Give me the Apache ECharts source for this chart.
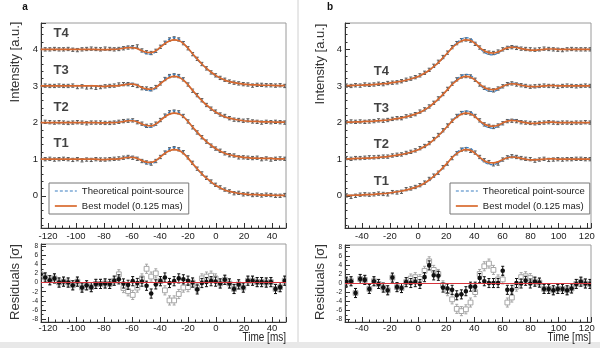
<!DOCTYPE html>
<html><head><meta charset="utf-8">
<script src="https://cdn.jsdelivr.net/npm/echarts@6/dist/echarts.min.js"></script>
<style>html,body{margin:0;padding:0;background:#fff}#c{width:600px;height:348px}</style>
</head><body><div id="c"></div><script>
const SANS = '"Liberation Sans", Arial, sans-serif';

// ---- panel a (disappearance) ----
const timeA = [-125.3,-122.0,-118.7,-115.4,-112.1,-108.9,-105.6,-102.3,-99.0,-95.7,-92.4,-89.1,-85.8,-82.5,-79.2,-75.9,-72.7,-69.4,-66.1,-62.8,-59.5,-56.2,-52.9,-49.6,-46.3,-43.0,-39.7,-36.5,-33.2,-29.9,-26.6,-23.3,-20.0,-16.7,-13.4,-10.1,-6.8,-3.5,-0.3,3.0,6.3,9.6,12.9,16.2,19.5,22.8,26.1,29.4,32.6,35.9,39.2,42.5,45.8,49.1];
const modelA = [1.00,1.00,1.00,1.00,1.00,1.00,1.00,1.00,1.00,1.00,1.00,1.00,1.00,0.99,0.99,1.00,1.00,1.01,1.03,1.05,1.05,1.02,0.96,0.92,0.91,0.96,1.06,1.16,1.23,1.26,1.24,1.16,1.03,0.88,0.74,0.60,0.48,0.38,0.29,0.22,0.16,0.12,0.09,0.07,0.05,0.04,0.03,0.03,0.02,0.02,0.02,0.01,0.01,0.01];
const theoryA = [1.00,1.00,1.00,1.00,1.00,1.00,1.00,1.00,1.00,1.00,1.00,1.00,1.00,0.99,0.99,1.00,1.01,1.02,1.04,1.07,1.07,1.03,0.95,0.88,0.87,0.94,1.06,1.19,1.29,1.32,1.28,1.18,1.03,0.87,0.72,0.59,0.47,0.37,0.28,0.21,0.16,0.12,0.09,0.07,0.05,0.04,0.03,0.03,0.02,0.02,0.02,0.01,0.01,0.01];
const aT1 = [1.02,1.00,1.01,0.99,1.00,1.01,1.00,0.98,1.00,0.97,0.99,0.98,1.00,0.99,0.99,1.00,1.01,1.02,1.04,1.06,1.04,1.01,0.95,0.91,0.88,0.95,1.06,1.18,1.27,1.30,1.27,1.19,1.05,0.90,0.74,0.61,0.49,0.39,0.30,0.23,0.17,0.12,0.07,0.08,0.04,0.05,0.02,0.03,0.01,0.03,0.02,0.00,0.00,0.02];
const aT2 = [2.01,2.02,2.01,2.00,2.01,2.00,1.99,2.00,2.01,2.00,1.98,2.00,2.00,2.00,1.99,1.99,2.00,2.02,2.04,2.05,2.06,2.01,1.97,1.91,1.92,1.97,2.07,2.19,2.28,2.30,2.28,2.18,2.03,1.87,1.73,1.60,1.48,1.37,1.29,1.23,1.16,1.11,1.10,1.05,1.05,1.04,1.03,1.04,1.00,1.02,0.99,1.01,1.02,1.01];
const aT3 = [3.00,3.01,3.00,3.00,3.01,3.00,3.00,3.01,2.97,2.99,2.96,2.97,2.95,2.97,2.99,3.00,3.01,3.04,3.05,3.05,3.03,3.00,2.94,2.93,2.91,2.97,3.07,3.19,3.27,3.29,3.27,3.18,3.04,2.87,2.75,2.61,2.48,2.38,2.30,2.22,2.18,2.12,2.08,2.07,2.05,2.06,2.03,2.02,2.00,2.02,2.01,2.02,2.01,2.00];
const aT4 = [4.00,4.00,4.00,4.01,4.00,4.00,4.01,3.99,3.98,4.00,4.01,4.02,4.01,4.00,4.02,4.01,4.00,4.01,4.03,4.05,4.06,4.08,3.97,3.92,3.90,3.96,4.07,4.18,4.27,4.30,4.27,4.17,4.03,3.87,3.74,3.60,3.48,3.37,3.29,3.22,3.17,3.12,3.09,3.07,3.05,3.04,3.01,3.03,3.03,3.02,3.02,3.01,3.02,3.00];
const resA = [1.8,1.1,0.5,0.9,0,0.2,0,-0.6,0.2,-1.1,-0.6,-1.0,-0.3,-0.3,-0.2,-0.3,0.4,0.7,-0.2,-0.5,0.3,-0.1,0.2,-0.7,-2.4,-0.4,0.3,1.1,-0.1,0.3,0.9,0.7,0.4,0,-1.5,-0.1,0.1,0.3,0.2,-0.2,0.6,-0.2,-1.4,-0.4,-1.1,0.4,0.4,0.1,0.1,0,0.1,-1.4,-1.0,0.4];
const resPsA = [1.8,1.1,0.5,0.9,0,0.2,0,-0.6,0.2,-1.1,-0.6,-1.0,-0.3,-0.3,-0.2,-0.3,0.4,1.8,-1.2,-1.9,-2.7,-1.1,0.9,3.0,1.3,2.0,0.3,-1.7,-3.9,-3.9,-2.5,-1.1,-1.0,0,-1.2,0.9,1.3,1.5,0.9,-0.2,0.6,-0.2,-1.4,-0.4,-1.1,0.4,0.4,0.1,0.1,0,0.1,-1.4,-1.0,0.4];

// ---- panel b (reappearance) ----
const timeB = [-51.0,-47.7,-44.5,-41.2,-37.9,-34.7,-31.4,-28.1,-24.8,-21.6,-18.3,-15.0,-11.8,-8.5,-5.2,-2.0,1.3,4.6,7.9,11.1,14.4,17.7,20.9,24.2,27.5,30.8,34.0,37.3,40.6,43.8,47.1,50.4,53.6,56.9,60.2,63.5,66.7,70.0,73.3,76.5,79.8,83.1,86.3,89.6,92.9,96.2,99.4,102.7,106.0,109.2,112.5,115.8,119.0,122.3];
const modelB = [0.01,0.01,0.02,0.02,0.03,0.03,0.04,0.05,0.06,0.07,0.09,0.11,0.13,0.16,0.19,0.23,0.28,0.35,0.43,0.53,0.64,0.77,0.90,1.04,1.15,1.23,1.26,1.24,1.16,1.05,0.96,0.91,0.90,0.93,0.99,1.04,1.06,1.05,1.02,1.00,0.98,0.98,0.99,1.00,1.01,1.01,1.00,1.00,1.00,1.00,1.00,1.00,1.00,1.00];
const theoryB = [0.01,0.01,0.02,0.02,0.03,0.03,0.04,0.05,0.06,0.07,0.09,0.11,0.13,0.16,0.19,0.23,0.28,0.34,0.42,0.52,0.63,0.76,0.90,1.05,1.18,1.28,1.32,1.29,1.18,1.04,0.92,0.86,0.85,0.90,0.98,1.05,1.08,1.07,1.03,1.00,0.98,0.97,0.98,1.00,1.01,1.01,1.01,1.00,1.00,1.00,1.00,1.00,1.00,1.00];
const bT1 = [0.01,-0.03,0.00,0.03,0.04,0.03,0.04,0.06,0.05,0.04,0.10,0.09,0.11,0.18,0.20,0.24,0.29,0.36,0.46,0.55,0.63,0.78,0.88,1.03,1.16,1.26,1.27,1.23,1.18,1.06,0.97,0.92,0.86,0.88,0.99,1.05,1.08,1.06,1.03,1.01,1.00,0.96,0.99,1.01,0.98,0.99,1.00,0.99,1.00,1.00,1.01,1.01,1.00,1.00];
const bT2 = [1.03,1.01,1.03,1.03,1.04,1.05,1.05,1.06,1.07,1.07,1.10,1.12,1.13,1.17,1.20,1.24,1.30,1.36,1.44,1.55,1.66,1.79,1.92,2.05,2.18,2.26,2.27,2.25,2.18,2.06,1.95,1.91,1.88,1.92,1.98,2.04,2.05,2.04,2.01,2.00,1.99,1.98,1.99,2.00,2.01,2.00,1.99,2.00,2.00,1.99,2.00,2.00,2.01,2.00];
const bT3 = [2.01,2.03,2.02,2.03,2.02,2.03,2.04,2.06,2.05,2.07,2.10,2.12,2.12,2.17,2.19,2.23,2.30,2.36,2.44,2.54,2.66,2.78,2.92,3.06,3.18,3.26,3.27,3.26,3.17,3.04,2.95,2.90,2.88,2.93,2.99,3.05,3.07,3.04,3.02,3.00,2.98,2.99,3.00,3.01,3.00,3.00,2.98,3.00,3.01,3.00,2.99,3.00,3.01,3.00];
const bT4 = [3.01,3.00,3.02,3.01,3.04,3.03,3.04,3.06,3.05,3.08,3.09,3.10,3.13,3.17,3.20,3.24,3.29,3.36,3.44,3.55,3.66,3.79,3.91,4.06,4.17,4.25,4.27,4.24,4.15,4.05,3.95,3.91,3.90,3.94,4.00,4.04,4.06,4.04,4.02,4.01,4.00,3.99,4.00,4.02,4.01,4.00,3.99,3.98,4.00,4.01,4.00,4.00,4.00,4.00];
const resB = [0.3,0.4,-2.2,0.9,0.7,-1.3,0.4,-0.2,-1.0,-1.6,1.2,-0.9,-1.1,0.2,0,0.2,-0.2,1.3,3.9,1.7,1.6,-1.0,-1.2,-1.5,-2.7,-2.5,-1.8,-0.8,-0.8,1.1,0.4,0,0,0,2.7,-1.5,-1.5,0,-0.1,0.5,-0.1,0.3,0.1,-1.3,-1.3,-1.6,-1.3,-1.3,-1.6,-1.2,-0.2,0.3,-0.1,-0.2];
const resPsB = [0.3,0.4,-2.2,0.9,0.7,-1.3,0.4,-0.2,-1.0,-1.6,1.2,-0.9,-1.1,0.2,1.0,1.3,0.9,2.7,4.8,2.9,2.0,-0.5,-1.8,-3.6,-5.7,-6.2,-5.8,-4.3,-2.0,2.0,3.7,4.3,2.9,0.8,0.8,-4.3,-3.2,-0.8,1.3,1.5,1.1,0.3,0.1,-1.3,-1.3,-1.6,-1.3,-1.3,-1.6,-1.2,-0.2,0.3,-0.1,-0.2];

const traceNames = ['T1', 'T2', 'T3', 'T4'];
const traceLevels = [0, 1, 2, 3];
const intensityErr = 0.045;   // half-length of the intensity error bars
const residualErr = 1;        // residual error bars are ±1 sigma

const THEORY = 'Theoretical point-source';
const MODEL = 'Best model (0.125 mas)';
const C_MODEL = '#d8692e';
const C_THEORY = '#3b7fc2';

function errorBars(opts) {
  return function (params, api) {
    const x = api.value(0), y = api.value(1), e = api.value(2);
    const p = api.coord([x, y]);
    const hi = api.coord([x, y + e])[1];
    const lo = api.coord([x, y - e])[1];
    const st = { stroke: opts.color, lineWidth: 1 };
    const cw = opts.cap;
    const kids = [
      { type: 'line', shape: { x1: p[0], y1: hi, x2: p[0], y2: lo }, style: st },
      { type: 'line', shape: { x1: p[0] - cw, y1: hi, x2: p[0] + cw, y2: hi }, style: st },
      { type: 'line', shape: { x1: p[0] - cw, y1: lo, x2: p[0] + cw, y2: lo }, style: st }
    ];
    if (opts.marker === 'circle') {
      kids.push({ type: 'circle', shape: { cx: p[0], cy: p[1], r: opts.size }, style: { fill: opts.color } });
    } else if (opts.marker === 'square') {
      const s = opts.size;
      kids.push({ type: 'rect', shape: { x: p[0] - s, y: p[1] - s, width: 2 * s, height: 2 * s }, style: { fill: '#fff', stroke: opts.color, lineWidth: 1 } });
    } else if (opts.marker === 'dot') {
      kids.push({ type: 'rect', shape: { x: p[0] - 0.7, y: p[1] - 0.7, width: 1.4, height: 1.4 }, style: { fill: opts.color } });
    }
    return { type: 'group', children: kids };
  };
}

const axisLineStyle = { color: '#333', width: 1 };
function xAxisDef(grid, min, max, margin) {
  return {
    type: 'value', gridIndex: grid, min: min, max: max,
    minInterval: 20, maxInterval: 20,
    axisLine: { show: true, onZero: false, lineStyle: axisLineStyle },
    axisTick: { show: true, inside: true, length: 5, lineStyle: axisLineStyle },
    minorTick: { show: true, splitNumber: 4, length: 2.5, lineStyle: axisLineStyle },
    axisLabel: { fontSize: 9.5, color: '#222', margin: margin, fontFamily: SANS, showMinLabel: false, showMaxLabel: false },
    splitLine: { show: false }
  };
}
function yAxisDef(grid, min, max, step, minorSplit, labelSize) {
  return {
    type: 'value', gridIndex: grid, min: min, max: max,
    minInterval: step, maxInterval: step,
    axisLine: { show: true, onZero: false, lineStyle: axisLineStyle },
    axisTick: { show: true, inside: true, length: 5, lineStyle: axisLineStyle },
    minorTick: { show: true, splitNumber: minorSplit, length: 2.5, lineStyle: axisLineStyle },
    axisLabel: { fontSize: labelSize, color: '#222', margin: 3, fontFamily: SANS, showMinLabel: false, showMaxLabel: false },
    splitLine: { show: false }
  };
}

const series = [];
function addPanel(topAxis, time, model, theory, traces, labelSpots) {
  traces.forEach(function (vals, k) {
    series.push({
      type: 'custom', xAxisIndex: topAxis, yAxisIndex: topAxis, clip: true, z: 2, silent: true,
      renderItem: errorBars({ color: '#5a5a5a', cap: 1.5, marker: 'dot' }),
      data: time.map(function (t, i) { return [t, vals[i], intensityErr]; })
    });
    series.push({
      type: 'line', name: THEORY, xAxisIndex: topAxis, yAxisIndex: topAxis, z: 3,
      symbol: 'none', smooth: 0.35, silent: true,
      lineStyle: { color: C_THEORY, width: 1.2, type: [3, 2] }, itemStyle: { color: C_THEORY },
      data: time.map(function (t, i) { return [t, traceLevels[k] + theory[i]]; })
    });
    series.push({
      type: 'line', name: MODEL, xAxisIndex: topAxis, yAxisIndex: topAxis, z: 4,
      symbol: 'none', smooth: 0.35, silent: true,
      lineStyle: { color: C_MODEL, width: 1.7 }, itemStyle: { color: C_MODEL },
      data: time.map(function (t, i) { return [t, traceLevels[k] + model[i]]; })
    });
  });
  series.push({
    type: 'scatter', xAxisIndex: topAxis, yAxisIndex: topAxis, z: 6, silent: true,
    symbolSize: 0,
    label: { show: true, position: 'right', distance: 0, formatter: function (p) { return p.data[2]; },
      fontFamily: SANS, fontWeight: 'bold', fontSize: 13, color: '#111' },
    data: labelSpots.map(function (s, k) { return [s[0], s[1], traceNames[k]]; })
  });
}
function addResiduals(axis, time, res, resPs) {
  series.push({
    type: 'custom', xAxisIndex: axis, yAxisIndex: axis, clip: true, z: 2, silent: true,
    renderItem: errorBars({ color: '#a5a5a5', cap: 1.5, marker: 'square', size: 2.4 }),
    data: time.map(function (t, i) { return [t, resPs[i], residualErr]; })
  });
  series.push({
    type: 'custom', xAxisIndex: axis, yAxisIndex: axis, clip: true, z: 4, silent: true,
    renderItem: errorBars({ color: '#111', cap: 1.5, marker: 'circle', size: 2.3 }),
    data: time.map(function (t, i) { return [t, res[i], residualErr]; }),
    markLine: { silent: true, symbol: 'none', label: { show: false }, animation: false,
      lineStyle: { color: '#d6343c', width: 1, type: 'solid' }, data: [{ yAxis: 0 }] }
  });
}

addPanel(0, timeA, modelA, theoryA, [aT1, aT2, aT3, aT4],
  [[-116, 1.42], [-116, 2.42], [-116, 3.42], [-116, 4.43]]);
addResiduals(1, timeA, resA, resPsA);
addPanel(2, timeB, modelB, theoryB, [bT1, bT2, bT3, bT4],
  [[-31.5, 0.39], [-31.5, 1.39], [-31.5, 2.4], [-31.5, 3.41]]);
addResiduals(3, timeB, resB, resPsB);

const gridStyle = { show: true, borderColor: '#9a9a9a', borderWidth: 1, backgroundColor: 'transparent' };
const legendStyle = {
  data: [THEORY, MODEL], orient: 'vertical', itemWidth: 22, itemHeight: 12, itemGap: 5,
  padding: [3, 5, 3, 5], borderColor: '#777', borderWidth: 1, backgroundColor: '#fff',
  selectedMode: false, textStyle: { fontSize: 9.5, color: '#222', fontFamily: SANS }, z: 10,
  itemStyle: { opacity: 0 }, lineStyle: { width: 'inherit' }
};

function sideText(x, y, text) {
  return { type: 'text', x: x, y: y, rotation: Math.PI / 2, silent: true,
    style: { text: text, font: '13px ' + SANS, fill: '#333', textAlign: 'center', textVerticalAlign: 'middle' } };
}
function timeTitle(x) {
  return { type: 'text', x: x, y: 338, scaleX: 0.8, silent: true,
    style: { text: 'Time [ms]', font: '12.5px ' + SANS, fill: '#222', textAlign: 'right', textVerticalAlign: 'middle' } };
}

const chart = echarts.init(document.getElementById('c'), null, { renderer: 'canvas' });
chart.setOption({
  animation: false,
  backgroundColor: '#fff',
  grid: [
    Object.assign({ left: 41, top: 23, width: 245, height: 205 }, gridStyle),
    Object.assign({ left: 41, top: 244, width: 245, height: 78 }, gridStyle),
    Object.assign({ left: 345, top: 23, width: 246, height: 205 }, gridStyle),
    Object.assign({ left: 345, top: 245, width: 246, height: 77 }, gridStyle)
  ],
  xAxis: [
    xAxisDef(0, -125, 50, 3), xAxisDef(1, -125, 50, 1),
    xAxisDef(2, -52, 123, 3), xAxisDef(3, -52, 123, 1)
  ],
  yAxis: [
    yAxisDef(0, -0.88, 4.72, 1, 5, 9.5), yAxisDef(1, -8.6, 8.4, 2, 2, 6.5),
    yAxisDef(2, -0.88, 4.72, 1, 5, 9.5), yAxisDef(3, -8.6, 8.4, 2, 2, 6.5)
  ],
  legend: [
    Object.assign({ left: 49, top: 183 }, legendStyle),
    Object.assign({ left: 450, top: 183 }, legendStyle)
  ],
  graphic: [
    { type: 'rect', left: 0, top: 342, shape: { width: 600, height: 6 }, style: { fill: '#e8e8e8' }, silent: true },
    { type: 'line', shape: { x1: 298, y1: 0, x2: 298, y2: 342 }, style: { stroke: '#d0d0d0', lineWidth: 1 }, silent: true },
    { type: 'text', x: 25, y: 7, silent: true, style: { text: 'a', font: 'bold 10px ' + SANS, fill: '#111', textAlign: 'center', textVerticalAlign: 'middle' } },
    { type: 'text', x: 330, y: 7, silent: true, style: { text: 'b', font: 'bold 10px ' + SANS, fill: '#111', textAlign: 'center', textVerticalAlign: 'middle' } },
    sideText(15, 62, 'Intensity [a.u.]'),
    sideText(320, 64, 'Intensity [a.u.]'),
    sideText(15, 282, 'Residuals [σ]'),
    sideText(320, 282, 'Residuals [σ]'),
    timeTitle(286),
    timeTitle(591)
  ],
  series: series
});
</script></body></html>
